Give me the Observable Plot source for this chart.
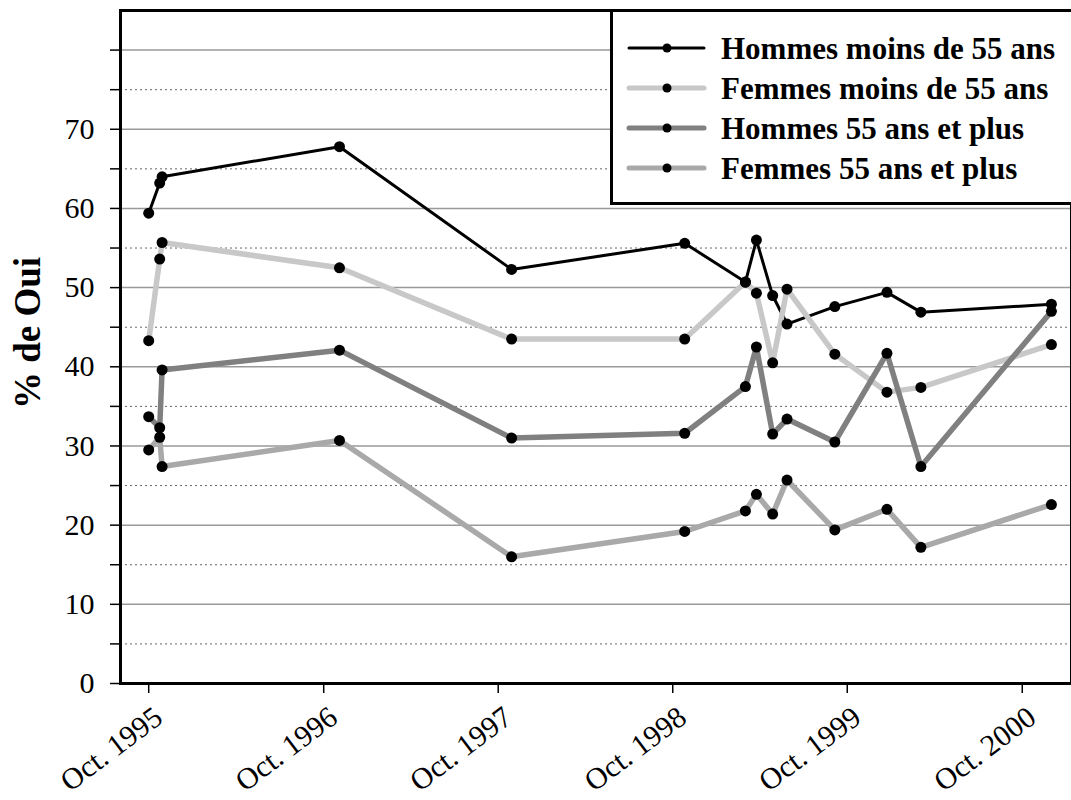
<!DOCTYPE html>
<html><head><meta charset="utf-8">
<script src="https://cdn.jsdelivr.net/npm/d3@7"></script>
<script src="https://cdn.jsdelivr.net/npm/@observablehq/plot@0.6"></script>
<style>
html,body{margin:0;padding:0;background:#fff;overflow:hidden;}
#wrap{position:relative;width:1071px;height:800px;}
#wrap svg{display:block;}
#legend{position:absolute;left:0;top:0;pointer-events:none;}
</style></head><body><div id="wrap"></div>
<script>
// ---- data ----
const dates = ["1995-10-01","1995-10-24","1995-10-29","1996-11-03","1997-10-29","1998-10-26",
  "1999-03-02","1999-03-25","1999-04-28","1999-05-28","1999-09-05","1999-12-23","2000-03-03","2000-12-01"];
const hommesMoins55 = [59.4, 63.2, 64.0, 67.8, 52.3, 55.6, 50.7, 56.0, 49.0, 45.4, 47.6, 49.4, 46.9, 47.9];
const femmesMoins55 = [43.3, 53.6, 55.7, 52.5, 43.5, 43.5, 50.7, 49.3, 40.5, 49.8, 41.6, 36.8, 37.4, 42.8];
const hommes55Plus  = [33.7, 32.3, 39.6, 42.1, 31.0, 31.6, 37.5, 42.5, 31.5, 33.4, 30.5, 41.7, 27.4, 47.0];
const femmes55Plus  = [29.5, 31.1, 27.4, 30.7, 16.0, 19.2, 21.8, 23.9, 21.4, 25.7, 19.4, 22.0, 17.2, 22.6];
const seriesNames = ["Hommes moins de 55 ans","Femmes moins de 55 ans","Hommes 55 ans et plus","Femmes 55 ans et plus"];
const seriesValues = [hommesMoins55, femmesMoins55, hommes55Plus, femmes55Plus];
const seriesColors = ["#000000","#c8c8c8","#808080","#a9a9a9"];
const seriesWidths = [3, 5.5, 5.5, 5.5];
const xTickYears = [1995, 1996, 1997, 1998, 1999, 2000];
const yTicks = [0,5,10,15,20,25,30,35,40,45,50,55,60,65,70,75,80];
const yLabels = [0,10,20,30,40,50,60,70];
const yMajorGrid = [10,20,30,40,50,60,70,80];
const yMinorGrid = [5,15,25,35,45,55,65,75];
const yTitle = "% de Oui";

const series = seriesNames.map((name, i) => seriesValues[i].map((v, j) => ({series: name, date: new Date(dates[j]), value: v})));
const allPoints = series.flat();
const xTickDates = xTickYears.map(y => new Date(Date.UTC(y, 9, 1)));

const font = "'Liberation Serif', 'Times New Roman', serif";

const chart = Plot.plot({
  width: 1071, height: 800,
  marginLeft: 120, marginRight: 0, marginTop: 10, marginBottom: 117,
  style: {fontFamily: font, fontSize: "30px", background: "white", color: "black", overflow: "visible"},
  x: {type: "utc", domain: [new Date("1995-08-03"), new Date("2001-01-12")]},
  y: {domain: [0, 85]},
  marks: [
    Plot.ruleY(yMinorGrid, {stroke: "#666", strokeWidth: 1, strokeDasharray: "2,3"}),
    Plot.ruleY(yMajorGrid, {stroke: "#999", strokeWidth: 1.5}),
    ...series.map((s, i) => Plot.line(s, {x: "date", y: "value", stroke: seriesColors[i], strokeWidth: seriesWidths[i], strokeLinejoin: "miter"})),
    Plot.dot(allPoints, {x: "date", y: "value", r: 5.5, fill: "black", stroke: "none"}),
    Plot.axisY({ticks: yTicks, tickSize: 10, tickPadding: 16, fontSize: 30, strokeWidth: 1.5, fontVariant: "normal",
      tickFormat: d => yLabels.includes(d) ? String(d) : "", label: null}),
    Plot.axisX({ticks: xTickDates, tickSize: 10, strokeWidth: 1.5, tickFormat: () => "", label: null}),
    Plot.text(xTickDates, {x: d => d, frameAnchor: "bottom", text: d => "Oct. " + d.getUTCFullYear(),
      rotate: -37, textAnchor: "end", lineAnchor: "middle", dx: 10, dy: 30, fontSize: 30, fill: "black"}),
    Plot.frame({stroke: "black", strokeWidth: 3}),
    Plot.text([yTitle], {frameAnchor: "left", text: d => d, rotate: -90, textAnchor: "middle", dx: -92, dy: -14,
      fontSize: 37, fontWeight: "bold", fill: "black"})
  ]
});
const wrap = document.getElementById("wrap");
wrap.appendChild(chart);

// ---- legend overlay ----
const lg = d3.select(wrap).append("svg").attr("id", "legend").attr("width", 1071).attr("height", 800);
lg.append("rect").attr("x", 611.5).attr("y", 10.5).attr("width", 480).attr("height", 193)
  .attr("fill", "white").attr("stroke", "black").attr("stroke-width", 3);
const rows = lg.selectAll("g.row").data(seriesNames).join("g").attr("class", "row")
  .attr("transform", (d, i) => `translate(0,${48 + i * 40})`);
rows.append("line").attr("x1", 629).attr("x2", 704).attr("y1", 0).attr("y2", 0)
  .attr("stroke", (d, i) => seriesColors[i]).attr("stroke-width", (d, i) => seriesWidths[i] === 3 ? 3 : 5)
  .attr("stroke-linecap", "round");
rows.append("circle").attr("cx", 667).attr("cy", 0).attr("r", 4.5).attr("fill", "black");
rows.append("text").attr("x", 721).attr("y", 10.5).text(d => d)
  .attr("font-family", font).attr("font-weight", "bold").attr("font-size", 31).attr("fill", "black");
</script></body></html>
